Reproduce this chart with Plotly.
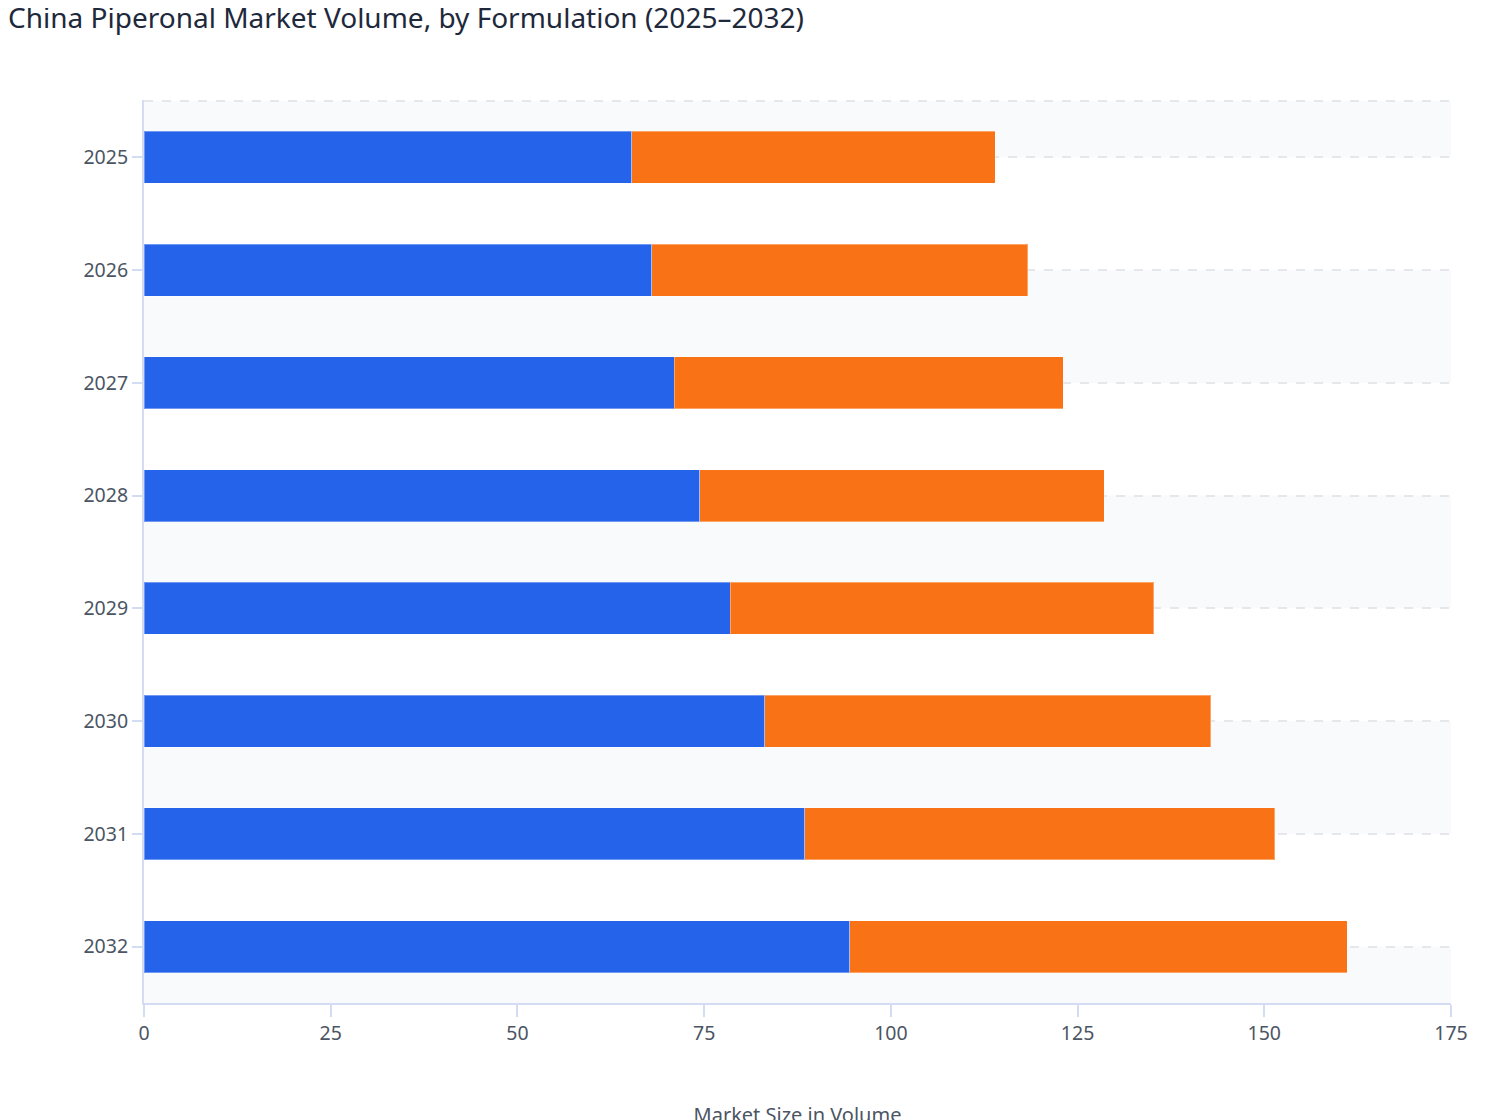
import plotly.graph_objects as go

years = ["2025", "2026", "2027", "2028", "2029", "2030", "2031", "2032"]
powder = [65.3, 68.0, 71.0, 74.4, 78.5, 83.1, 88.5, 94.5]
liquid = [48.7, 50.3, 52.1, 54.2, 56.7, 59.7, 62.9, 66.6]

BLUE = "#2563eb"
ORANGE = "#f97316"
FONT = "Noto Sans"

fig = go.Figure()
fig.add_trace(go.Bar(y=years, x=powder, name="Powder", orientation="h",
                     marker=dict(color=BLUE, line=dict(width=1, color="rgba(255,255,255,0.35)"))))
fig.add_trace(go.Bar(y=years, x=liquid, name="Liquid", orientation="h",
                     marker=dict(color=ORANGE, line=dict(width=1, color="rgba(255,255,255,0.35)"))))

# alternating light bands between category centres
n = len(years)
bands = [(-0.5, 0)] + [(i, i + 1) for i in range(1, n - 1, 2)] + [(n - 1, n - 0.5)]
for y0, y1 in bands:
    fig.add_shape(type="rect", xref="paper", yref="y", x0=0, x1=1, y0=y0, y1=y1,
                  fillcolor="#f8fafc", line=dict(width=0), layer="between")
fig.add_shape(type="line", xref="paper", yref="y", x0=0, x1=1, y0=-0.5, y1=-0.5,
              line=dict(color="#e5e7eb", width=2, dash="dash"), layer="between")

# page has an 8px body margin, so margins are trimmed to keep the plot in place
fig.update_layout(
    width=1508, height=1120,
    barmode="stack", bargap=0.54,
    showlegend=False,
    paper_bgcolor="white", plot_bgcolor="white",
    margin=dict(l=136, r=65, t=92, b=125),
    font=dict(family=FONT, size=19.5, color="#4b5563"),
    title=dict(text="China Piperonal Market Volume, by Formulation (2025–2032)",
               x=0, xref="container", xanchor="left",
               y=1, yref="container", yanchor="top", pad=dict(t=0, l=0),
               font=dict(family=FONT, size=28, color="#1e293b")),
)
fig.update_xaxes(range=[0, 175], dtick=25, showgrid=False, zeroline=False,
                 showline=True, linecolor="#d3dcf2", linewidth=2,
                 ticks="outside", ticklen=12, tickwidth=2, tickcolor="#d3dcf2",
                 automargin=False,
                 title=dict(text="Market Size in Volume", standoff=80,
                            font=dict(size=20, color="#4b5563")))
fig.update_yaxes(autorange="reversed", showgrid=True, gridcolor="#e5e7eb",
                 gridwidth=2, griddash="dash", zeroline=False,
                 showline=True, linecolor="#d3dcf2", linewidth=2,
                 ticks="outside", ticklen=10, tickwidth=2, tickcolor="#d3dcf2")

fig.write_html("out.html")
